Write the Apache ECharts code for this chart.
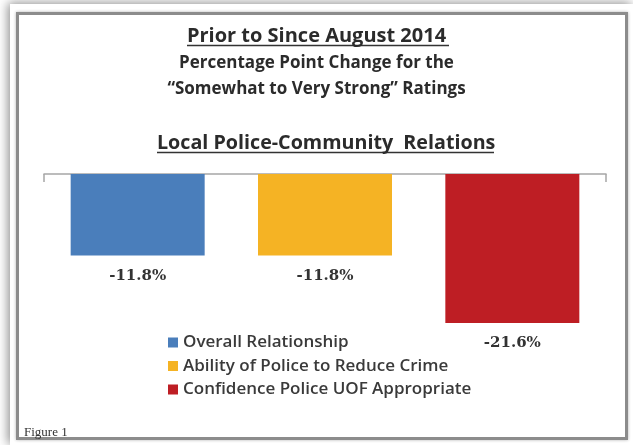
<!DOCTYPE html>
<html>
<head>
<meta charset="utf-8">
<script src="https://cdn.jsdelivr.net/npm/echarts@6/dist/echarts.min.js"></script>
<style>
  html, body { margin: 0; padding: 0; background: #fff; overflow: hidden; }
  .page { position: absolute; left: 10px; top: 4px; width: 623px; height: 441px; background: #fff;
          box-shadow: -2px -1px 10px rgba(0, 0, 0, 0.45); }
  .frame { position: absolute; left: 16px; top: 12px; width: 606px; height: 422px; background: #fff;
           border: 3px solid #8c8c8c; box-shadow: 0 0 3px rgba(0, 0, 0, 0.3); }
  #chart { position: absolute; left: 0; top: 0; width: 633px; height: 445px; }
</style>
</head>
<body>
<div class="page"></div>
<div class="frame"></div>
<div id="chart"></div>
<script>
// Data
const categories = ['Overall Relationship', 'Ability of Police to Reduce Crime', 'Confidence Police UOF Appropriate'];
const changes = [-11.8, -11.8, -21.6];

// Styles
const barColors = ['#4A7EBB', '#F5B324', '#BE1E24'];
const sans = '"Open Sans", sans-serif';

const chart = echarts.init(document.getElementById('chart'));

// one series per category so each gets its own legend entry; stacked so they share a slot
const series = categories.map((name, i) => ({
    name: name,
    type: 'bar',
    stack: 'all',
    barWidth: 134,
    itemStyle: { color: barColors[i] },
    label: {
        show: true,
        position: 'bottom',
        distance: 13,
        formatter: p => p.value.toFixed(1) + '%',
        fontFamily: '"DejaVu Serif", serif',
        fontWeight: 'bold',
        fontSize: 15,
        color: '#333'
    },
    data: categories.map((c, j) => (j === i ? changes[i] : '-'))
}));

chart.setOption({
    animation: false,
    backgroundColor: 'transparent',
    title: [
        { text: 'Prior to Since August 2014', left: 'center', top: 21,
          textStyle: { fontFamily: sans, fontWeight: 'bold', fontSize: 20, color: '#2b2b2b' } },
        { text: 'Percentage Point Change for the', left: 'center', top: 50,
          textStyle: { fontFamily: sans, fontWeight: 'bold', fontSize: 17, color: '#2b2b2b' } },
        { text: '\u201cSomewhat to Very Strong\u201d Ratings', left: 'center', top: 76,
          textStyle: { fontFamily: sans, fontWeight: 'bold', fontSize: 17, color: '#2b2b2b' } },
        { text: 'Local Police-Community  Relations', left: 152, top: 128,
          textStyle: { fontFamily: sans, fontWeight: 'bold', fontSize: 19.7, color: '#2b2b2b' } },
        { text: 'Figure 1', left: 19, top: 421,
          textStyle: { fontFamily: '"Liberation Serif", serif', fontWeight: 'normal', fontSize: 13, color: '#333' } }
    ],
    graphic: [
        // title underlines
        { type: 'line', shape: { x1: 187, y1: 45.5, x2: 449, y2: 45.5 }, style: { stroke: '#333', lineWidth: 1.5 } },
        { type: 'line', shape: { x1: 157, y1: 152.5, x2: 494, y2: 152.5 }, style: { stroke: '#333', lineWidth: 1.5 } }
    ],
    legend: {
        data: categories,
        orient: 'vertical',
        left: 163,
        top: 329,
        icon: 'rect',
        itemWidth: 10,
        itemHeight: 10,
        itemGap: 6.5,
        textStyle: { fontFamily: sans, fontSize: 17, fontWeight: 600, color: '#3a3a3a', lineHeight: 17 }
    },
    grid: { left: 44, right: 27, top: 174, height: 207, containLabel: false },
    xAxis: {
        type: 'category',
        data: categories,
        axisLine: { lineStyle: { color: '#a6a6a6', width: 1.5 } },
        axisTick: { show: true, length: 8, interval: idx => idx === 0, lineStyle: { color: '#a6a6a6', width: 1.5 } },
        axisLabel: { show: false }
    },
    yAxis: {
        type: 'value',
        min: -30,
        max: 0,
        show: false
    },
    series: series
});
</script>
</body>
</html>
